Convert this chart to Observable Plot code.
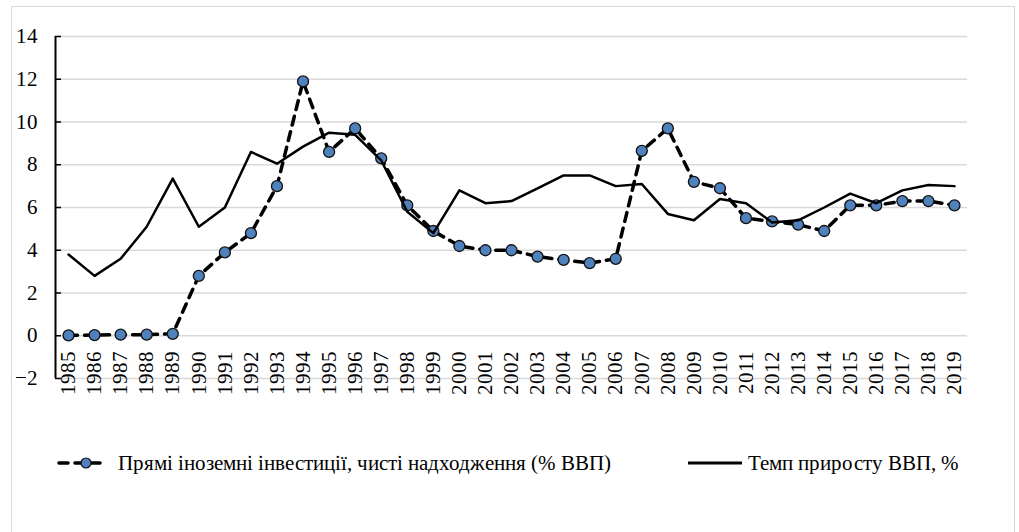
<!DOCTYPE html>
<html>
<head>
<meta charset="utf-8">
<style>
  @font-face { font-family: "ChartSerif"; src: local("Liberation Serif"), local("LiberationSerif"), local("Times New Roman"), local("Tinos"); }
  html, body { margin: 0; padding: 0; background: #fff; }
  #page { position: relative; width: 1019px; height: 532px; overflow: hidden; font-family: "ChartSerif", "Liberation Serif", "Times New Roman", serif; }
  #frame { position: absolute; left: 11px; top: 6px; width: 1004px; height: 600px; border: 1.5px solid #d9d9d9; box-sizing: border-box; }
  #chart { position: absolute; left: 0; top: 0; }
  .leg { position: absolute; top: 449px; height: 28px; display: flex; align-items: center; font-size: 21px; color: #000; white-space: nowrap; }
  .leg svg { display: block; }
  .leg span { font-family: "ChartSerif", "Liberation Serif", "Times New Roman", serif; }
  #chart svg text { font-family: "ChartSerif", "Liberation Serif", "Times New Roman", serif !important; }
</style>
</head>
<body>
<div id="page">
  <div id="frame"></div>
  <div id="chart"></div>
  <div class="leg" style="left:56px"><svg width="56" height="28"><line x1="3" y1="14" x2="50" y2="14" stroke="#000" stroke-width="3.5" stroke-dasharray="9,7" stroke-linecap="round"/><circle cx="30" cy="14" r="5" fill="#4f81bd" stroke="#111" stroke-width="1.2"/></svg><span id="name1" style="margin-left:6px"></span></div>
  <div class="leg" style="left:686px"><svg width="58" height="28"><line x1="2" y1="14" x2="56" y2="14" stroke="#000" stroke-width="3"/></svg><span id="name2" style="margin-left:4px"></span></div>
</div>
<script src="https://cdn.jsdelivr.net/npm/d3@7"></script>
<script src="https://cdn.jsdelivr.net/npm/@observablehq/plot@0.6"></script>
<script>
const years = [1985,1986,1987,1988,1989,1990,1991,1992,1993,1994,1995,1996,1997,1998,1999,2000,2001,2002,2003,2004,2005,2006,2007,2008,2009,2010,2011,2012,2013,2014,2015,2016,2017,2018,2019];
const fdi = [0.02,0.03,0.05,0.05,0.09,2.8,3.9,4.8,7.0,11.9,8.6,9.7,8.3,6.1,4.9,4.2,4.0,4.0,3.7,3.55,3.4,3.6,8.65,9.7,7.2,6.9,5.5,5.35,5.2,4.9,6.1,6.1,6.3,6.3,6.1];
const gdp = [3.8,2.8,3.6,5.1,7.35,5.1,6.0,8.6,8.05,8.85,9.5,9.4,8.2,5.8,4.8,6.8,6.2,6.3,6.9,7.5,7.5,7.0,7.1,5.7,5.4,6.4,6.2,5.3,5.4,6.0,6.65,6.2,6.8,7.05,7.0];
const yTicks = [-2,0,2,4,6,8,10,12,14];
const seriesNames = ["Прямі іноземні інвестиції, чисті надходження (% ВВП)", "Темп приросту ВВП, %"];

const fdiData = years.map((y, i) => ({year: y, value: fdi[i]}));
const gdpData = years.map((y, i) => ({year: y, value: gdp[i]}));

const FONT = "ChartSerif, Liberation Serif, Times New Roman, serif";
const W = 1019, H = 420, mL = 55, mR = 52, mT = 36, mB = 42;
const innerW = W - mL - mR;

const chart = Plot.plot({
  width: W,
  height: H,
  marginLeft: mL,
  marginRight: mR,
  marginTop: mT,
  marginBottom: mB,
  style: {fontFamily: FONT, fontSize: "21px", color: "#000", background: "transparent", overflow: "visible"},
  x: {type: "linear", domain: [years[0] - 0.5, years[years.length - 1] + 0.5], axis: null},
  y: {domain: [-2, 14], axis: null},
  marks: [
    Plot.ruleY(yTicks, {stroke: "#d9d9d9", strokeWidth: 1.5}),
    Plot.ruleY(yTicks, {stroke: "#000", strokeWidth: 1.5, insetRight: innerW - 6}),
    Plot.ruleX([years[0] - 0.5], {y1: -2, y2: 14, stroke: "#000", strokeWidth: 2}),
    Plot.axisY({ticks: yTicks, tickSize: 0, tickPadding: 18, fontSize: 21, fill: "#000", label: null, fontFamily: FONT}),
    Plot.text(years, {x: d => d, y: () => 0, text: d => String(d), rotate: -90, textAnchor: "end", dy: 15, fontSize: 21, fill: "#000", fontFamily: FONT}),
    Plot.lineY(fdiData, {x: "year", y: "value", stroke: "#000", strokeWidth: 3.5, strokeDasharray: "9,7", strokeLinecap: "round"}),
    Plot.dot(fdiData, {x: "year", y: "value", r: 5.5, fill: "#4f81bd", stroke: "#111", strokeWidth: 1.3}),
    Plot.lineY(gdpData, {x: "year", y: "value", stroke: "#000", strokeWidth: 2.5})
  ]
});
document.getElementById("chart").appendChild(chart);
document.getElementById("name1").textContent = seriesNames[0];
document.getElementById("name2").textContent = seriesNames[1];
</script>
</body>
</html>
